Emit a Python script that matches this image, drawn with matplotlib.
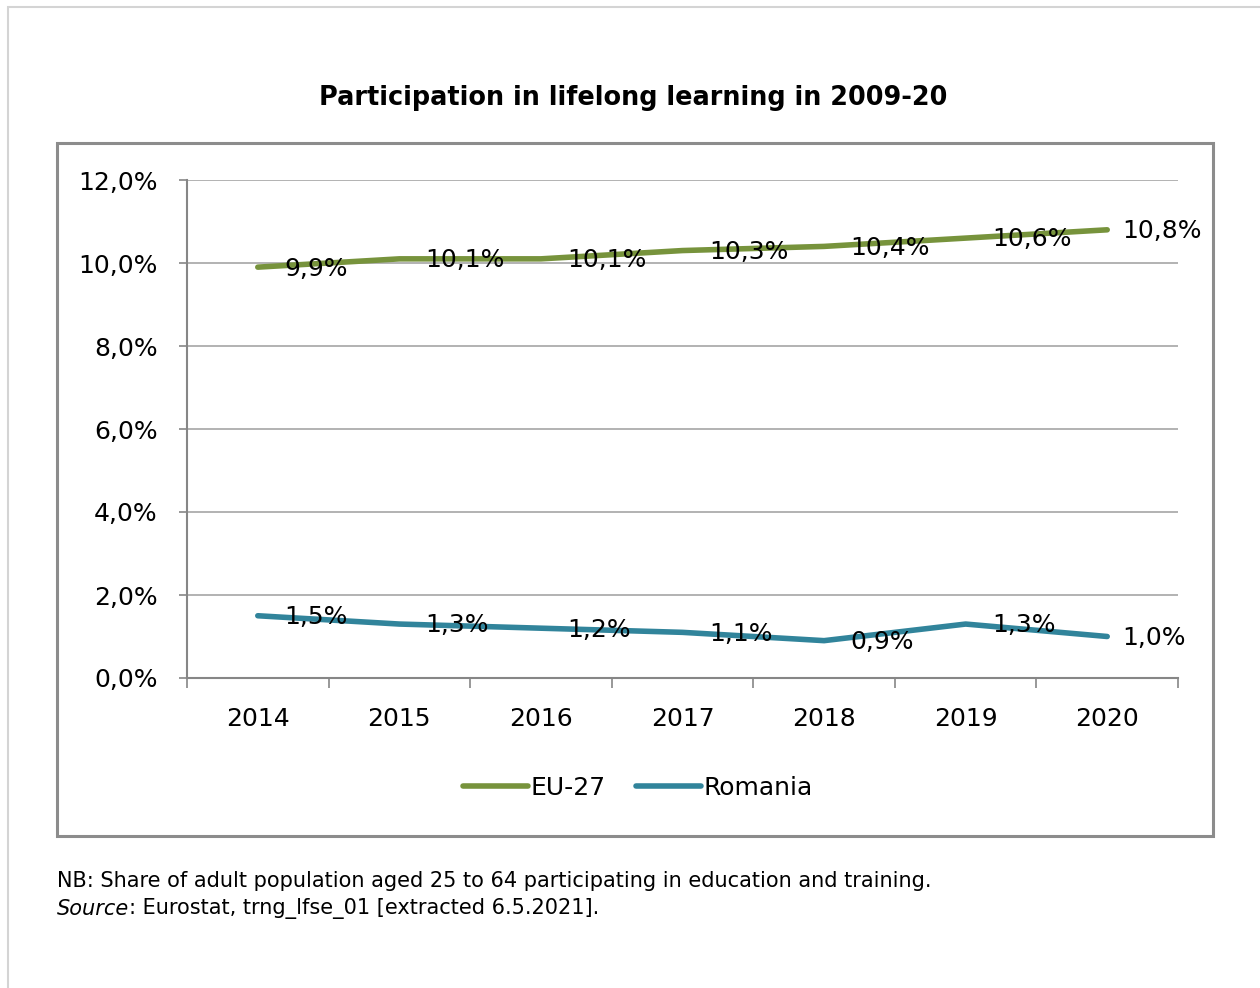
import matplotlib
matplotlib.use('Agg')
import matplotlib.pyplot as plt
from matplotlib.patches import Rectangle

# data
years = ['2014', '2015', '2016', '2017', '2018', '2019', '2020']
eu27 = [9.9, 10.1, 10.1, 10.3, 10.4, 10.6, 10.8]
romania = [1.5, 1.3, 1.2, 1.1, 0.9, 1.3, 1.0]
y_ticks = [0, 2, 4, 6, 8, 10, 12]

green = '#77933c'
blue = '#31849b'
axis_grey = '#868686'

plt.rcParams['font.family'] = ['DejaVu Sans']

W, H = 1260, 988
fig = plt.figure(figsize=(W / 100, H / 100), dpi=100)


def fx(px):
    return px / W


def fy(py):
    return 1 - py / H


# light outer frame and the chart box
fig.add_artist(Rectangle((fx(8), fy(1000)), fx(1300), 993 / H,
                         transform=fig.transFigure, fill=False,
                         edgecolor='#d4d4d4', lw=1.5))
fig.add_artist(Rectangle((fx(57), fy(836)), fx(1213 - 57), (836 - 143) / H,
                         transform=fig.transFigure, fill=False,
                         edgecolor='#8c8c8c', lw=2.2))

ax = fig.add_axes([fx(187), fy(678), fx(1178 - 187), (678 - 180) / H])
x = list(range(len(years)))

ax.plot(x, eu27, color=green, lw=4, solid_capstyle='round', label='EU-27')
ax.plot(x, romania, color=blue, lw=4, solid_capstyle='round',
        label='Romania')

# data labels to the right of each point
for series in (eu27, romania):
    for i, v in enumerate(series):
        off = 11 if i == len(series) - 1 else 19
        ax.annotate(f'{v:.1f}%'.replace('.', ','), xy=(i, v),
                    xytext=(off, -1), textcoords='offset points',
                    ha='left', va='center', fontsize=18, color='black')

ax.set_xlim(-0.5, 6.5)
ax.set_ylim(0, 12)
ax.set_yticks(y_ticks)
ax.set_yticklabels([f'{t:.1f}%'.replace('.', ',') for t in y_ticks])
ax.set_xticks(x)
ax.set_xticklabels(years)
ax.set_xticks([i - 0.5 for i in range(len(years) + 1)], minor=True)

ax.tick_params(axis='x', which='major', length=0, pad=21, labelsize=18)
ax.tick_params(axis='x', which='minor', length=7.5, width=1.2,
               color=axis_grey, direction='out')
ax.tick_params(axis='y', length=6, width=1.2, color=axis_grey, pad=15,
               labelsize=18)

ax.grid(axis='y', color='#a6a6a6', lw=1.2)
ax.set_axisbelow(True)
for side in ('top', 'right'):
    ax.spines[side].set_visible(False)
for side in ('left', 'bottom'):
    ax.spines[side].set_color(axis_grey)
    ax.spines[side].set_linewidth(1.5)

fig.legend(loc='center', bbox_to_anchor=(fx(638), fy(788)), ncol=2,
           frameon=False, fontsize=18, handlelength=2.6, handletextpad=0.1,
           columnspacing=1.2)

fig.text(fx(633), fy(98), 'Participation in lifelong learning in 2009-20',
         ha='center', va='center', fontsize=18.4, fontweight='bold')

fig.text(fx(57), fy(881), 'NB: Share of adult population aged 25 to 64 '
         'participating in education and training.',
         ha='left', va='center', fontsize=15)
src = fig.text(fx(57), fy(909), 'Source', ha='left', va='center',
               fontsize=15, style='italic')
ax.annotate(': Eurostat, trng_lfse_01 [extracted 6.5.2021].', xy=(1, 0),
            xycoords=src, ha='left', va='bottom', fontsize=15,
            annotation_clip=False)

fig.savefig('out.png', dpi=100)
